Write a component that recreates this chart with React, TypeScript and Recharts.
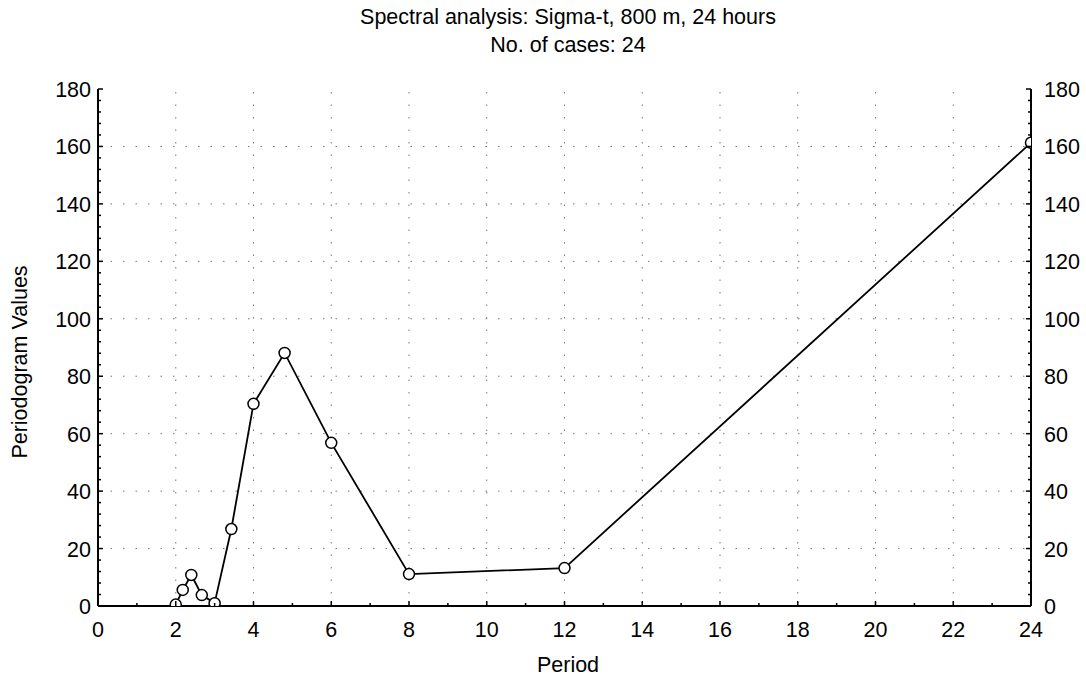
import React from "react";
import { LineChart, Line, XAxis, YAxis, ReferenceLine } from "recharts";

const periods = [2, 2.18, 2.4, 2.67, 3, 3.43, 4, 4.8, 6, 8, 12, 24];
const periodogram = [0.5, 5.6, 10.8, 3.8, 1, 26.8, 70.4, 88.1, 56.8, 11.1, 13.2, 161.3];

const xMajorTicks = [0, 2, 4, 6, 8, 10, 12, 14, 16, 18, 20, 22, 24];
const xMinorTicks = [0, 1, 2, 3, 4, 5, 6, 7, 8, 9, 10, 11, 12, 13, 14, 15, 16, 17, 18, 19, 20, 21, 22, 23, 24];
const yMajorTicks = [0, 20, 40, 60, 80, 100, 120, 140, 160, 180];
const yMinorTicks = [0, 4, 8, 12, 16, 20, 24, 28, 32, 36, 40, 44, 48, 52, 56, 60, 64, 68, 72, 76, 80, 84, 88, 92, 96, 100, 104, 108, 112, 116, 120, 124, 128, 132, 136, 140, 144, 148, 152, 156, 160, 164, 168, 172, 176, 180];

const titleLine1 = "Spectral analysis: Sigma-t, 800 m, 24 hours";
const titleLine2 = "No. of cases: 24";
const xLabel = "Period";
const yLabel = "Periodogram Values";

const data = periods.map((p, i) => ({ period: p, value: periodogram[i] }));

const FONT = "'Liberation Sans', Arial, Helvetica, sans-serif";
const FS = 21.5;

const XTick = (props: any) => {
  const { x, y, payload } = props;
  const major = xMajorTicks.includes(payload.value);
  return (
    <g>
      <line x1={x} y1={y} x2={x} y2={y - (major ? 5 : 3)} stroke="#000" strokeWidth={1.5} />
      {major && (
        <text x={x} y={y + 31} textAnchor="middle" fontSize={FS} fontFamily={FONT} fill="#000">
          {payload.value}
        </text>
      )}
    </g>
  );
};

const YLeftTick = (props: any) => {
  const { x, y, payload } = props;
  const major = yMajorTicks.includes(payload.value);
  return (
    <g>
      <line x1={x} y1={y} x2={x + (major ? 5 : 3)} y2={y} stroke="#000" strokeWidth={1.5} />
      {major && (
        <text x={x - 7} y={y + 8} textAnchor="end" fontSize={FS} fontFamily={FONT} fill="#000">
          {payload.value}
        </text>
      )}
    </g>
  );
};

const YRightTick = (props: any) => {
  const { x, y, payload } = props;
  const major = yMajorTicks.includes(payload.value);
  return (
    <g>
      <line x1={x} y1={y} x2={x - (major ? 5 : 3)} y2={y} stroke="#000" strokeWidth={1.5} />
      {major && (
        <text x={x + 13} y={y + 8} textAnchor="start" fontSize={FS} fontFamily={FONT} fill="#000">
          {payload.value}
        </text>
      )}
    </g>
  );
};

const textStyle: React.CSSProperties = {
  position: "absolute",
  textAlign: "center",
  fontSize: FS,
  lineHeight: "26px",
  color: "#000",
  whiteSpace: "nowrap",
};

export default function App() {
  return (
    <div style={{ position: "absolute", left: 0, top: 0, width: 1086, height: 679, background: "#fff", fontFamily: FONT }}>
      <div style={{ ...textStyle, left: 68, width: 1000, top: 4 }}>{titleLine1}</div>
      <div style={{ ...textStyle, left: 68, width: 1000, top: 32 }}>{titleLine2}</div>
      <div style={{ ...textStyle, left: 68, width: 1000, top: 652 }}>{xLabel}</div>
      <div style={{ ...textStyle, left: 20 - 150, top: 362 - 13, width: 300, transform: "rotate(-90deg)" }}>
        {yLabel}
      </div>
      <LineChart
        width={1086}
        height={679}
        data={data}
        margin={{ top: 89, right: 5, bottom: 43, left: 38 }}
        style={{ position: "absolute", left: 0, top: 0 }}
      >
        {xMajorTicks.filter((v) => v !== 0 && v !== 24).map((v) => (
          <ReferenceLine key={"gx" + v} x={v} xAxisId="bottom" yAxisId="left" stroke="#777" strokeWidth={1} strokeDasharray="1.5 11" />
        ))}
        {yMajorTicks.filter((v) => v !== 0 && v !== 180).map((v) => (
          <ReferenceLine key={"gy" + v} y={v} xAxisId="bottom" yAxisId="left" stroke="#777" strokeWidth={1} strokeDasharray="1.5 11" />
        ))}
        <XAxis
          xAxisId="top"
          orientation="top"
          type="number"
          dataKey="period"
          domain={[0, 24]}
          ticks={xMajorTicks}
          tick={false}
          tickLine={false}
          height={0}
          axisLine={{ stroke: "#000", strokeWidth: 2 }}
        />
        <XAxis
          xAxisId="bottom"
          type="number"
          dataKey="period"
          domain={[0, 24]}
          ticks={xMinorTicks}
          interval={0}
          tick={<XTick />}
          tickLine={false}
          tickSize={0}
          tickMargin={0}
          height={30}
          axisLine={{ stroke: "#000", strokeWidth: 2 }}
          allowDataOverflow
        />
        <YAxis
          yAxisId="left"
          type="number"
          domain={[0, 180]}
          ticks={yMinorTicks}
          interval={0}
          tick={<YLeftTick />}
          tickLine={false}
          tickSize={0}
          tickMargin={0}
          width={60}
          axisLine={{ stroke: "#000", strokeWidth: 2 }}
          allowDataOverflow
        />
        <YAxis
          yAxisId="right"
          orientation="right"
          type="number"
          domain={[0, 180]}
          ticks={yMinorTicks}
          interval={0}
          tick={<YRightTick />}
          tickLine={false}
          tickSize={0}
          tickMargin={0}
          width={50}
          axisLine={{ stroke: "#000", strokeWidth: 2 }}
          allowDataOverflow
        />
        <Line
          xAxisId="bottom"
          yAxisId="left"
          type="linear"
          dataKey="value"
          stroke="#000"
          strokeWidth={1.8}
          dot={{ r: 5.5, fill: "#fff", stroke: "#000", strokeWidth: 1.5 }}
          isAnimationActive={false}
        />
      </LineChart>
    </div>
  );
}
